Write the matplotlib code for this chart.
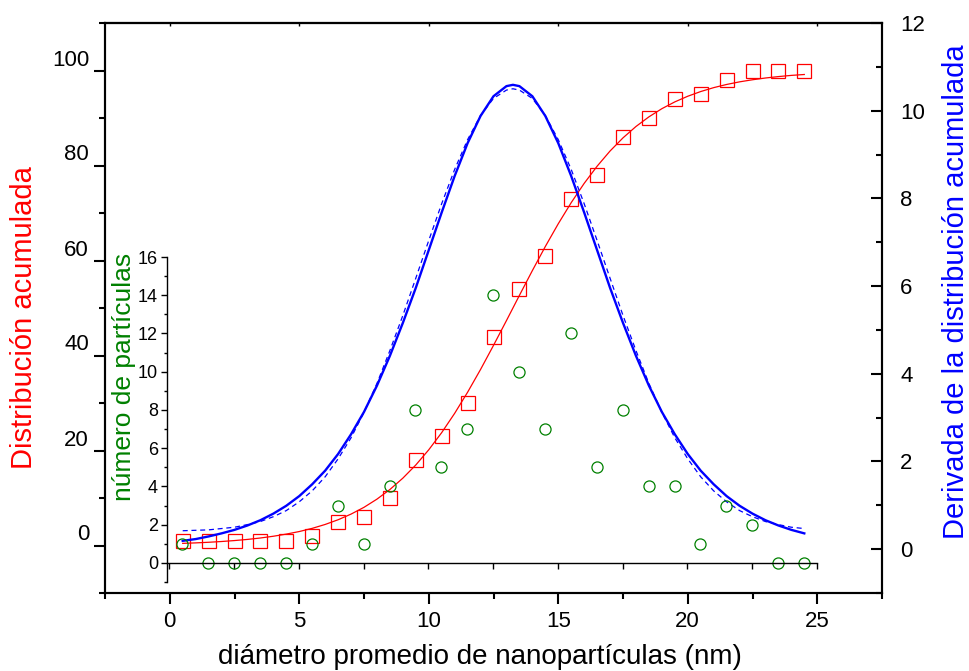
import matplotlib.pyplot as plt
import matplotlib.transforms as mtransforms
from matplotlib.ticker import MultipleLocator

plt.rcParams['font.family'] = ['Liberation Sans', 'DejaVu Sans']

# measured points (bin centres, nm)
diam = [0.5, 1.5, 2.5, 3.5, 4.5, 5.5, 6.5, 7.5, 8.5, 9.5, 10.5, 11.5, 12.5,
        13.5, 14.5, 15.5, 16.5, 17.5, 18.5, 19.5, 20.5, 21.5, 22.5, 23.5, 24.5]
count = [1, 0, 0, 0, 0, 1, 3, 1, 4, 8, 5, 7, 14, 10, 7, 12, 5, 8, 4, 4, 1, 3, 2, 0, 0]
cumul = [1, 1, 1, 1, 1, 2, 5, 6, 10, 18, 23, 30, 44, 54, 61, 73, 78, 86, 90, 94,
         95, 98, 100, 100, 100]

# fitted curves
xfit = [0.5, 1.0, 1.5, 2.0, 2.5, 3.0, 3.5, 4.0, 4.5, 5.0, 5.5, 6.0, 6.5, 7.0,
        7.5, 8.0, 8.5, 9.0, 9.5, 10.0, 10.5, 11.0, 11.5, 12.0, 12.5, 13.0, 13.25,
        13.5, 14.0, 14.5, 15.0, 15.5, 16.0, 16.5, 17.0, 17.5, 18.0, 18.5, 19.0,
        19.5, 20.0, 20.5, 21.0, 21.5, 22.0, 22.5, 23.0, 23.5, 24.0, 24.5]
cumul_fit = [0.45, 0.55, 0.68, 0.84, 1.04, 1.28, 1.58, 1.95, 2.40, 2.94, 3.61,
             4.43, 5.42, 6.61, 8.04, 9.76, 11.79, 14.18, 16.95, 20.15, 23.77,
             27.82, 32.27, 37.06, 42.13, 47.35, 50.0, 52.65, 57.87, 62.94, 67.73,
             72.18, 76.23, 79.85, 83.05, 85.82, 88.21, 90.24, 91.96, 93.39,
             94.58, 95.57, 96.39, 97.06, 97.61, 98.05, 98.42, 98.72, 98.97, 99.16]
deriv = [0.19, 0.23, 0.29, 0.36, 0.44, 0.54, 0.66, 0.81, 0.99, 1.21, 1.48, 1.79,
         2.17, 2.62, 3.13, 3.73, 4.41, 5.16, 5.96, 6.82, 7.68, 8.51, 9.26, 9.88,
         10.33, 10.56, 10.59, 10.56, 10.33, 9.88, 9.26, 8.51, 7.68, 6.82, 5.96,
         5.16, 4.41, 3.73, 3.13, 2.62, 2.17, 1.79, 1.48, 1.21, 0.99, 0.81, 0.66,
         0.54, 0.44, 0.36]
gauss = [0.42, 0.43, 0.44, 0.47, 0.50, 0.56, 0.63, 0.74, 0.88, 1.08, 1.33, 1.65,
         2.06, 2.54, 3.12, 3.78, 4.53, 5.33, 6.18, 7.04, 7.88, 8.66, 9.34, 9.89,
         10.28, 10.47, 10.50, 10.47, 10.28, 9.89, 9.34, 8.66, 7.88, 7.04, 6.18,
         5.33, 4.53, 3.78, 3.12, 2.54, 2.06, 1.65, 1.33, 1.08, 0.88, 0.74, 0.63,
         0.56, 0.50, 0.47]

RED = '#ff0000'
BLUE = '#0000ff'
GREEN = '#008000'

W, H = 970, 671
fig = plt.figure(figsize=(W / 100, H / 100), dpi=100)

# main axes (pixel box 105..882 x 23..593)
L, R, T, B = 105, 882, 23, 593
ax = fig.add_axes([L / W, 1 - B / H, (R - L) / W, (B - T) / H])
ax.set_xlim(-2.5, 27.5)
ax.set_ylim(-10, 110)
ax.plot(xfit, cumul_fit, color=RED, lw=0.9, zorder=2)
ax.plot(diam, cumul, ls='none', marker='s', ms=10, mfc='none', mec=RED, mew=0.9, zorder=3)

ax.set_xticks([0, 5, 10, 15, 20, 25])
ax.xaxis.set_minor_locator(MultipleLocator(2.5))
ax.set_yticks([0, 20, 40, 60, 80, 100])
ax.yaxis.set_minor_locator(MultipleLocator(10))
ax.tick_params(axis='both', which='both', direction='out', width=1.5, labelsize=16)
ax.tick_params(axis='both', which='major', length=8)
ax.tick_params(axis='both', which='minor', length=4.5)
ax.tick_params(axis='x', which='major', pad=5)
for spine in ax.spines.values():
    spine.set_linewidth(1.5)
ax.set_xlabel('diámetro promedio de nanopartículas (nm)', fontsize=20)
ax.xaxis.set_label_coords((480 - L) / (R - L), -(644 - B) / (B - T))
ax.set_ylabel('Distribución acumulada', fontsize=21, color=RED)
ax.yaxis.set_label_coords(-(L - 38) / (R - L), (B - 318) / (B - T))

# left tick labels sit above their ticks
lift = mtransforms.ScaledTranslation(0, 13 / 100, fig.dpi_scale_trans)
for lab in ax.get_yticklabels():
    lab.set_transform(lab.get_transform() + lift)

# small inward ticks on the top edge
top = ax.secondary_xaxis('top')
top.set_xticks([0, 5, 10, 15, 20, 25])
top.tick_params(direction='in', length=2, width=1, labeltop=False)
top.spines['top'].set_linewidth(1.5)

# right axis
ax2 = ax.twinx()
ax2.set_ylim(-1, 12)
ax2.plot(xfit, deriv, color=BLUE, lw=1.7)
ax2.plot(xfit, gauss, color=BLUE, lw=0.9, ls=(0, (4, 3)))
ax2.set_yticks([0, 2, 4, 6, 8, 10, 12])
ax2.yaxis.set_minor_locator(MultipleLocator(1))
ax2.tick_params(axis='y', which='both', direction='in', width=1.5, labelsize=16, pad=13)
ax2.tick_params(axis='y', which='major', length=8)
ax2.tick_params(axis='y', which='minor', length=4.5)
for spine in ax2.spines.values():
    spine.set_linewidth(1.5)
ax2.set_ylabel('Derivada de la distribución acumulada', fontsize=21, color=BLUE)
ax2.yaxis.set_label_coords(1 + (942 - R) / (R - L), (B - 292) / (B - T))

# inset with particle counts (pixel box 167..817 x 257..582)
IL, IR, IT, IB = 167, 817, 257, 582
axi = fig.add_axes([IL / W, 1 - IB / H, (IR - IL) / W, (IB - IT) / H])
axi.patch.set_alpha(0)
axi.set_xlim(-0.09, 25)
axi.set_ylim(-1, 16)
axi.plot(diam, count, ls='none', marker='o', ms=8, mfc='none', mec=GREEN, mew=0.9)
axi.spines['top'].set_visible(False)
axi.spines['right'].set_visible(False)
axi.spines['bottom'].set_position(('data', 0))
axi.spines['bottom'].set_linewidth(1)
axi.spines['left'].set_linewidth(1)
axi.set_xticks([0, 2.5, 5, 7.5, 10, 12.5, 15, 17.5, 20, 22.5, 25])
axi.tick_params(axis='x', direction='out', length=4, width=1, labelbottom=False)
axi.set_yticks(range(0, 17, 2))
axi.yaxis.set_minor_locator(MultipleLocator(1))
axi.tick_params(axis='y', which='both', direction='out', width=1, labelsize=13, pad=2)
axi.tick_params(axis='y', which='major', length=4.5)
axi.tick_params(axis='y', which='minor', length=2.5)
axi.set_ylabel('número de partículas', fontsize=19, color=GREEN)
axi.yaxis.set_label_coords(-(IL - 136) / (IR - IL), (IB - 377) / (IB - IT))

fig.savefig('out.png', dpi=100)
